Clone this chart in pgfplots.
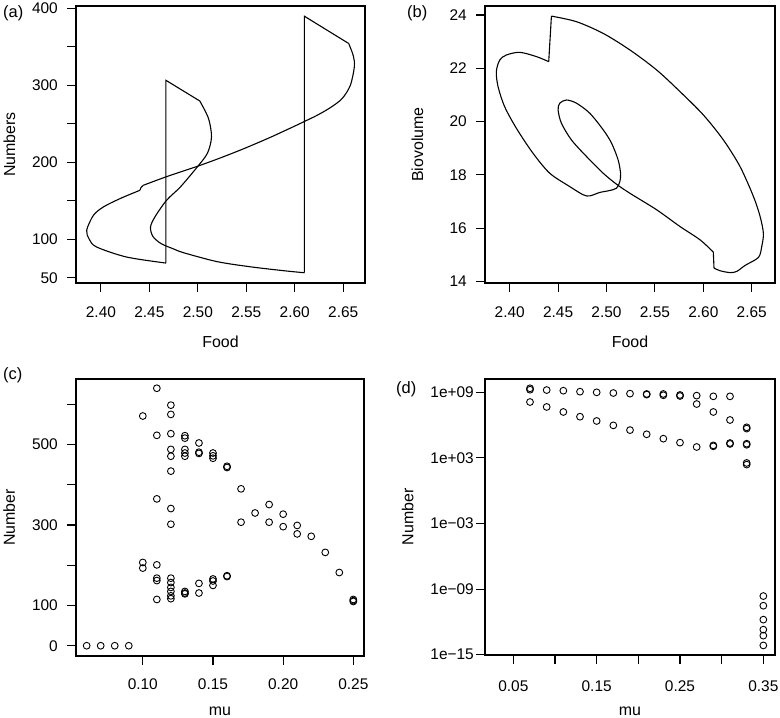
\documentclass[border=0pt]{standalone}
\usepackage{fontspec}
\setmainfont{Liberation Sans}
\usepackage{pgfplots}
\pgfplotsset{compat=1.18}

\pgfplotsset{
  rpanel/.style={
    scale only axis,
    axis line style={line width=1.1bp},
    tick style={line width=1.1bp, black},
    major tick length=9bp,
    tick align=outside,
    tick pos=left,
    minor tick num=0,
    tick label style={font=\fontsize{15.5}{18}\selectfont, inner sep=0pt},
    label style={font=\fontsize{16}{19}\selectfont, inner sep=0pt},
    xticklabel style={anchor=base},
    yticklabel style={anchor=east},
  },
  curve/.style={black, line width=1.1bp, mark=none},
  dots/.style={black, only marks, mark=o, mark size=3.4bp, mark options={line width=0.9bp}},
}

\begin{document}
\begin{tikzpicture}
\useasboundingbox (0,0) rectangle (780bp,718bp);

% (a) food vs numbers
\begin{axis}[rpanel, at={(76bp,435bp)}, width=289bp, height=277bp,
  xmin=2.3743, xmax=2.6725, ymin=43.3, ymax=402.9,
  xtick={2.40,2.45,2.50,2.55,2.60,2.65},
  xticklabels={2.40,2.45,2.50,2.55,2.60,2.65},
  ytick={50,100,150,200,250,300,350,400},
  yticklabels={50,100,,200,,300,,400},
  xticklabel style={yshift=-26bp}, yticklabel style={xshift=-9bp},
  xlabel={Food}, ylabel={Numbers},
  xlabel style={at={(axis description cs:0.5,-0.232)}, anchor=base},
  ylabel style={at={(axis description cs:-0.211,0.5)}, anchor=base},
]
\addplot[curve, sharp plot] coordinates {(2.61,56.6) (2.61,389.6) (2.6557,354.2)};
\addplot[curve, smooth] coordinates {
(2.6557,354.2) (2.6605,338) (2.6615,324) (2.6574,300) (2.6489,282.7)
(2.6368,271) (2.6231,261) (2.61,253) (2.6,247) (2.575,232.5) (2.55,219)
(2.525,206.5) (2.5,195) (2.467,181) (2.4437,170.1)};
\addplot[curve, sharp plot] coordinates {(2.4437,170.1) (2.4415,167.5) (2.4402,163.6)};
\addplot[curve, smooth] coordinates {
(2.4402,163.6) (2.42,153) (2.4025,142) (2.3922,131) (2.3853,111.7)
(2.388,100) (2.3956,90) (2.4265,77) (2.467,69.2)};
\addplot[curve, sharp plot] coordinates {(2.467,69.2) (2.467,306.5) (2.502,279.6)};
\addplot[curve, smooth] coordinates {
(2.502,279.6) (2.511,257) (2.5141,232.9) (2.510,212) (2.5,194.8)
(2.482,168) (2.4677,150.6) (2.4557,129) (2.4512,116) (2.4535,104)
(2.462,94.5) (2.475,87.5) (2.4856,82.5) (2.520,71) (2.5544,64.3)
(2.589,59.2) (2.61,56.6)};
\end{axis}

% (b) food vs biovolume
\begin{axis}[rpanel, at={(485bp,435bp)}, width=290bp, height=277bp,
  xmin=2.3745, xmax=2.674, ymin=13.94, ymax=24.34,
  xtick={2.40,2.45,2.50,2.55,2.60,2.65},
  xticklabels={2.40,2.45,2.50,2.55,2.60,2.65},
  ytick={14,16,18,20,22,24},
  yticklabels={14,16,18,20,22,24},
  xticklabel style={yshift=-26bp}, yticklabel style={xshift=-9bp},
  xlabel={Food}, ylabel={Biovolume},
  xlabel style={at={(axis description cs:0.5,-0.232)}, anchor=base},
  ylabel style={at={(axis description cs:-0.213,0.5)}, anchor=base},
]
\addplot[curve, sharp plot] coordinates {(2.4431,23.96) (2.4403,22.25)};
\addplot[curve, smooth] coordinates {
(2.4403,22.25) (2.4276,22.44) (2.4103,22.6) (2.3966,22.5) (2.3897,22.31)
(2.3862,21.875) (2.388,21.31) (2.3948,20.56) (2.4069,19.75) (2.4241,18.81)
(2.4414,18.06) (2.462,17.56) (2.476,17.25) (2.4828,17.21) (2.4931,17.34)
(2.503,17.41) (2.5103,17.5) (2.5138,17.75) (2.5145,18.06) (2.512,18.56)
(2.5052,19.19) (2.4966,19.69) (2.4828,20.31) (2.469,20.69) (2.4586,20.81)
(2.4517,20.69) (2.45,20.44) (2.4534,19.94) (2.4638,19.31) (2.4793,18.69)
(2.4966,18.06) (2.5103,17.65) (2.5241,17.31) (2.5517,16.69) (2.5759,16.06)
(2.5966,15.56) (2.6103,15.1)};
\addplot[curve, sharp plot] coordinates {(2.6103,15.1) (2.611,14.5)};
\addplot[curve, smooth] coordinates {
(2.611,14.5) (2.6172,14.4) (2.6276,14.33) (2.6345,14.375) (2.6431,14.6)
(2.6569,14.9) (2.6603,15.31) (2.662,15.8) (2.6586,16.44) (2.6517,17.19)
(2.6379,18.31) (2.6207,19.31) (2.6,20.25) (2.5759,21.125) (2.5517,21.94)
(2.5241,22.69) (2.4966,23.31) (2.469,23.75) (2.4431,23.96)};
\end{axis}

% (c) mu vs number
\begin{axis}[rpanel, at={(76bp,62bp)}, width=288bp, height=277bp,
  xmin=0.0524, xmax=0.2576, ymin=-25.5, ymax=663,
  xtick={0.10,0.15,0.20,0.25},
  xticklabels={0.10,0.15,0.20,0.25},
  ytick={0,100,200,300,400,500,600},
  yticklabels={0,100,,300,,500,},
  xticklabel style={yshift=-24.3bp}, yticklabel style={xshift=-9bp},
  xlabel={mu}, ylabel={Number},
  xlabel style={at={(axis description cs:0.5,-0.213)}, anchor=base},
  ylabel style={at={(axis description cs:-0.212,0.5)}, anchor=base},
]
\addplot[dots] coordinates {
(0.06,0) (0.07,0) (0.08,0) (0.09,0)
(0.10,571) (0.10,207) (0.10,193)
(0.11,640) (0.11,523) (0.11,365) (0.11,201) (0.11,168) (0.11,162) (0.11,115)
(0.12,598) (0.12,575) (0.12,527) (0.12,488) (0.12,471) (0.12,434) (0.12,341)
(0.12,302) (0.12,168) (0.12,157) (0.12,145) (0.12,135) (0.12,124) (0.12,117)
(0.13,522) (0.13,516) (0.13,488) (0.13,479) (0.13,471) (0.13,135) (0.13,131) (0.13,129)
(0.14,504) (0.14,481) (0.14,478) (0.14,155) (0.14,131)
(0.15,479) (0.15,472) (0.15,466) (0.15,166) (0.15,161) (0.15,150)
(0.16,446) (0.16,443) (0.16,174) (0.16,172)
(0.17,390) (0.17,307)
(0.18,330)
(0.19,351) (0.19,307)
(0.20,327) (0.20,296)
(0.21,299) (0.21,278)
(0.22,272)
(0.23,232)
(0.24,182)
(0.25,115) (0.25,112) (0.25,110)};
\end{axis}

% (d) mu vs number, log scale
\begin{axis}[rpanel, at={(485bp,63bp)}, width=290bp, height=276bp,
  ymode=log, log basis y=10,
  xmin=0.016, xmax=0.364, ymin=9.3e-16, ymax=1.66e10,
  xtick={0.05,0.10,0.15,0.20,0.25,0.30,0.35},
  xticklabels={0.05,,0.15,,0.25,,0.35},
  ytick={1e-15,1e-9,1e-3,1e3,1e9},
  yticklabels={1e−15,1e−09,1e−03,1e+03,1e+09},
  xticklabel style={yshift=-27.7bp}, yticklabel style={xshift=-2bp},
  xlabel={mu}, ylabel={Number},
  xlabel style={at={(axis description cs:0.5,-0.221)}, anchor=base},
  ylabel style={at={(axis description cs:-0.247,0.5)}, anchor=base},
]
\addplot[dots] coordinates {
(0.07,2.34e9) (0.07,1.74e9) (0.09,1.62e9) (0.11,1.41e9) (0.13,1.15e9)
(0.15,1e9) (0.17,8.7e8) (0.19,7.6e8) (0.21,7.1e8) (0.21,6.2e8)
(0.23,7.1e8) (0.23,5.4e8) (0.25,5.75e8) (0.25,4.6e8) (0.27,5e8) (0.27,8.5e7)
(0.29,4.3e8) (0.29,1.6e7) (0.31,4.3e8) (0.31,2.95e6)
(0.33,6.3e5) (0.33,4.8e5) (0.33,2e4) (0.33,1.6e4) (0.33,347) (0.33,245)
(0.07,1.3e8) (0.09,4.6e7) (0.11,1.6e7) (0.13,5.9e6) (0.15,2.4e6)
(0.17,9.5e5) (0.19,3.5e5) (0.21,1.45e5) (0.23,5.75e4) (0.25,2.5e4)
(0.27,1e4) (0.29,1.4e4) (0.29,1.15e4) (0.31,2.3e4) (0.31,1.9e4)
(0.35,2.3e-10) (0.35,3e-11) (0.35,1.6e-12) (0.35,1.95e-13) (0.35,5.5e-14) (0.35,7e-15)};
\end{axis}

\node[anchor=base west, inner sep=0pt, font=\fontsize{16.5}{19}\selectfont] at (3bp,700.7bp) {(a)};
\node[anchor=base west, inner sep=0pt, font=\fontsize{16.5}{19}\selectfont] at (407bp,700.7bp) {(b)};
\node[anchor=base west, inner sep=0pt, font=\fontsize{16.5}{19}\selectfont] at (3bp,338bp) {(c)};
\node[anchor=base west, inner sep=0pt, font=\fontsize{16.5}{19}\selectfont] at (396bp,324.7bp) {(d)};
\end{tikzpicture}
\end{document}
